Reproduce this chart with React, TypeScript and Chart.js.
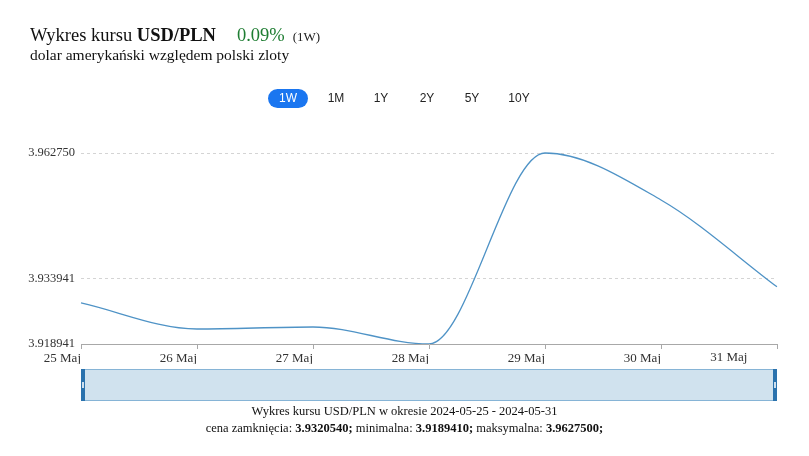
import React, { useEffect, useRef } from "react";
import { Chart, registerables } from "chart.js";

Chart.register(...registerables);

const dates = ["25 Maj", "26 Maj", "27 Maj", "28 Maj", "29 Maj", "30 Maj", "31 Maj"];
const rates = [3.92835, 3.92238, 3.92284, 3.918941, 3.96275, 3.95197, 3.932054];
const yTicks = [3.918941, 3.933941, 3.96275];
const yMin = 3.918941;
const yMax = 3.96688;
const ranges = ["1W", "1M", "1Y", "2Y", "5Y", "10Y"];

const SERIF = '"Liberation Serif", "DejaVu Serif", serif';
const SANS = '"Liberation Sans", Arial, sans-serif';

const navigatorPlugin = {
  id: "navigator",
  afterDraw(chart: any) {
    const { ctx, chartArea } = chart;
    const x0 = chartArea.left;
    const x1 = chartArea.right;
    const y0 = chartArea.bottom + 25;
    const h = 32;
    ctx.save();
    ctx.fillStyle = "#d0e2ee";
    ctx.fillRect(x0, y0, x1 - x0, h);
    ctx.strokeStyle = "#86b4d6";
    ctx.lineWidth = 1;
    ctx.strokeRect(x0 + 0.5, y0 + 0.5, x1 - x0 - 1, h - 1);
    ctx.fillStyle = "#2a72ad";
    ctx.fillRect(x0, y0, 4, h);
    ctx.fillRect(x1 - 4, y0, 4, h);
    ctx.fillStyle = "#cfe0ee";
    ctx.fillRect(x0 + 1, y0 + h / 2 - 3, 2, 6);
    ctx.fillRect(x1 - 3, y0 + h / 2 - 3, 2, 6);
    // last x label (drawn inset from the axis end)
    const xs = chart.scales.x;
    const n = dates.length;
    const pA = xs.getPixelForValue(n - 2);
    const pB = xs.getPixelForValue(n - 1);
    ctx.fillStyle = "#333";
    ctx.font = `13px ${SERIF}`;
    ctx.textAlign = "right";
    ctx.textBaseline = "middle";
    ctx.fillText(dates[n - 1], pA + (pB - pA) * 0.745, chartArea.bottom + 14);
    ctx.restore();
  },
};

export default function App() {
  const ref = useRef<HTMLCanvasElement | null>(null);

  useEffect(() => {
    if (!ref.current) return;
    const chart = new Chart(ref.current, {
      type: "line",
      data: {
        labels: dates,
        datasets: [
          {
            data: rates,
            borderColor: "#4f93c6",
            borderWidth: 1.3,
            pointRadius: 0,
            cubicInterpolationMode: "monotone",
            fill: false,
          },
        ],
      },
      options: {
        animation: false,
        responsive: false,
        maintainAspectRatio: false,
        layout: { padding: { left: 0, right: 32, top: 135, bottom: 92 } },
        plugins: { legend: { display: false }, tooltip: { enabled: false } },
        scales: {
          x: {
            type: "category",
            offset: false,
            afterFit: (s: any) => {
              s.height = 20;
            },
            grid: {
              drawOnChartArea: false,
              drawTicks: true,
              tickLength: 5,
              color: "#a8a8a8",
            },
            border: { display: true, color: "#a8a8a8", width: 1 },
            ticks: {
              autoSkip: false,
              maxRotation: 0,
              align: "end",
              padding: 2,
              color: "#333",
              font: { family: SERIF, size: 13 },
              callback: (_v: any, i: number) => (i === dates.length - 1 ? "" : dates[i]),
            },
          },
          y: {
            min: yMin,
            max: yMax,
            afterFit: (s: any) => {
              s.width = 81;
            },
            afterBuildTicks: (s: any) => {
              s.ticks = yTicks.map((v) => ({ value: v }));
            },
            grid: {
              drawTicks: false,
              color: (c: any) =>
                c.tick && c.tick.value === yTicks[0] ? "rgba(0,0,0,0)" : "#d4d4d4",
              lineWidth: 1,
            },
            border: { display: false, dash: [3, 3] },
            ticks: {
              padding: 6,
              color: "#333",
              font: { family: SERIF, size: 12.5 },
              callback: (v: any) => Number(v).toFixed(6),
            },
          },
        },
      },
      plugins: [navigatorPlugin],
    } as any);
    return () => chart.destroy();
  }, []);

  const btnX = [288, 336, 381, 427, 472, 519];

  return (
    <div style={{ position: "fixed", left: 0, top: 0, width: 809, height: 456, background: "#fff" }}>
      <canvas ref={ref} width={809} height={456} style={{ position: "absolute", left: 0, top: 0 }} />
      <div
        style={{
          position: "absolute",
          left: 30,
          top: 25,
          fontFamily: SERIF,
          fontSize: 18.5,
          color: "#111",
          whiteSpace: "nowrap",
        }}
      >
        Wykres kursu <b>USD/PLN</b>
        <span style={{ color: "#1e7d32", marginLeft: 21 }}>0.09%</span>
        <span style={{ fontSize: 13, marginLeft: 8, color: "#222" }}>(1W)</span>
      </div>
      <div
        style={{
          position: "absolute",
          left: 30,
          top: 46,
          fontFamily: SERIF,
          fontSize: 15.5,
          color: "#111",
          whiteSpace: "nowrap",
        }}
      >
        dolar amerykański względem polski zloty
      </div>
      {ranges.map((r, i) => (
        <div
          key={r}
          style={{
            position: "absolute",
            left: btnX[i] - 20,
            top: 89,
            width: 40,
            height: 19,
            lineHeight: "19px",
            borderRadius: 10,
            textAlign: "center",
            fontFamily: SANS,
            fontSize: 12,
            color: i === 0 ? "#fff" : "#222",
            background: i === 0 ? "#1a76f0" : "transparent",
          }}
        >
          {r}
        </div>
      ))}
      <div
        style={{
          position: "absolute",
          left: 0,
          width: 809,
          top: 403,
          textAlign: "center",
          fontFamily: SERIF,
          fontSize: 12.5,
          lineHeight: "17px",
          color: "#111",
        }}
      >
        <div>Wykres kursu USD/PLN w okresie 2024-05-25 - 2024-05-31</div>
        <div>
          cena zamknięcia: <b>3.9320540;</b> minimalna: <b>3.9189410;</b> maksymalna: <b>3.9627500;</b>
        </div>
      </div>
    </div>
  );
}
